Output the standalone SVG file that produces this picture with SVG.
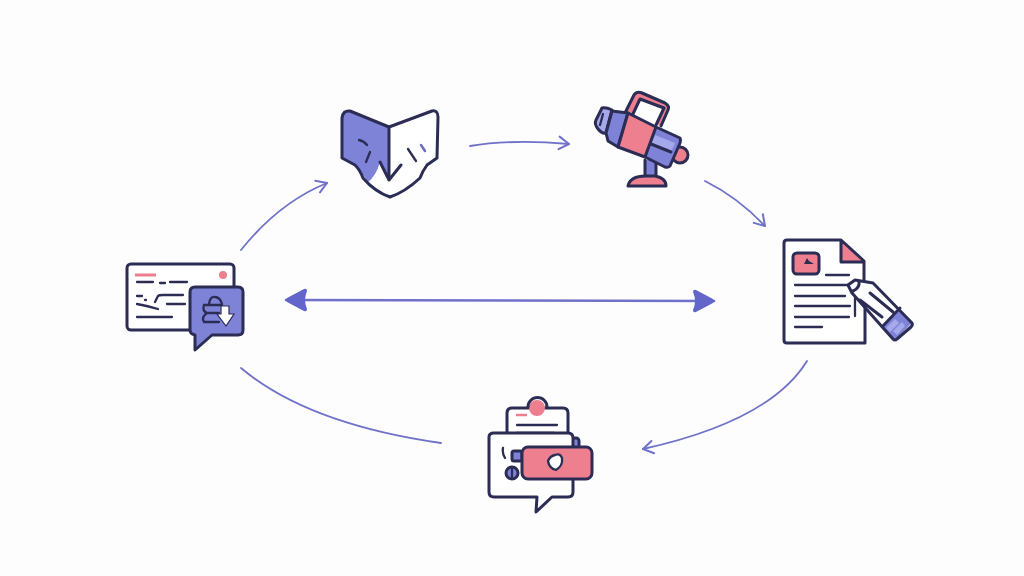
<svg xmlns="http://www.w3.org/2000/svg" width="1024" height="576" viewBox="0 0 1024 576">
<style>
.o{stroke:#2b2d55;stroke-width:3;stroke-linejoin:round;stroke-linecap:round;fill:none}
.w{fill:#fff}.b{fill:#7f83d8}.lb{fill:#a5a8ea}.p{fill:#ee7f8f}
.t{stroke:#2b2d55;stroke-width:2.300;stroke-linecap:round;fill:none}
.c{stroke:#7071c8;stroke-width:1.800;fill:none;stroke-linecap:round}
</style>
<defs>
<marker id="open" markerUnits="userSpaceOnUse" markerWidth="18" markerHeight="18" refX="13" refY="8" orient="auto">
<path d="M3 1.500L13 8L3 14" fill="none" stroke="#7071c8" stroke-width="2" stroke-linecap="round" stroke-linejoin="round"/>
</marker>
<marker id="solidEnd" markerUnits="userSpaceOnUse" markerWidth="30" markerHeight="30" refX="24" refY="15" orient="auto-start-reverse">
<path d="M3 6Q3 3 6 4L23 13Q25 15 23 17L6 26Q3 27 3 24Q7 15 3 6Z" fill="#6265c9"/>
</marker>
</defs>
<rect width="1024" height="576" fill="#fdfdfe"/>
<g id="connectors">
<path class="c" marker-end="url(#open)" d="M241 250C265 220 295 196 327 183"/>
<path class="c" marker-end="url(#open)" d="M470 146C500 141 535 141 569 144"/>
<path class="c" marker-end="url(#open)" d="M705 181C727 192 748 208 765 226"/>
<path class="c" marker-end="url(#open)" d="M807 361C780 405 720 432 643 449"/>
<path class="c" d="M441 443C350 430 285 405 241 368"/>
<path class="c" style="stroke-width:2.600" marker-start="url(#solidEnd)" marker-end="url(#solidEnd)" d="M286 300L714 301"/>
</g>
<g id="node-book">
<path class="w" d="M389 127L432 111Q438 110 438 117L437 158L427 165Q422 172 420 178Q405 192 390 197Q375 192 363 178Q360 170 355 165L342 158L342 118Q343 110 350 111Z"/>
<path class="b" d="M389 127L350 111Q343 110 342 118L342 158L355 165Q360 170 368 182Q376 176 380 162L389 180Z"/>
<path class="o" d="M389 127L432 111Q438 110 438 117L437 158L427 165Q422 172 420 178Q405 192 390 197Q375 192 363 178Q360 170 355 165L342 158L342 118Q343 110 350 111Z"/>
<path class="o" d="M389 127L389 180L380 162M389 180L401 165"/>
<path class="t" d="M359 140Q364 141 367 145M370 152L366 162M408 149L416 161"/>
<path d="M421 145L425 151" stroke="#6a6cc0" stroke-width="2.500" stroke-linecap="round"/>
</g>
<g id="node-mic">
<path class="p" d="M625 113L634 95Q637 91 642 93L665 103Q670 106 668 110L661 126L655 124L664 108L640 99L632 116Z"/>
<path class="o" d="M625 113L634 95Q637 91 642 93L665 103Q670 106 668 110L661 126M632 116L640 99L664 108L656 125"/>
<path class="b" d="M645 160H656V178H645Z"/>
<path class="o" d="M645 160V177M656 160V177"/>
<path class="p" d="M628 186Q630 176 646 176H655Q666 178 666 186Z"/>
<path class="o" d="M628 186Q630 176 646 176H655Q666 178 666 186Z"/>
<circle class="p" cx="680" cy="155" r="8"/><circle class="o" cx="680" cy="155" r="8"/>
<path class="lb" d="M602 108Q606 107 612 110L606 133Q602 134 598 129Q594 124 596 120Z"/>
<path class="o" d="M602 108Q606 107 612 110L606 133Q602 134 598 129Q594 124 596 120Z"/>
<path class="t" d="M603 114L600 125"/>
<path class="b" d="M612 111L628 113L618 147L608 141L606 133Z"/>
<path class="o" d="M612 111L628 113L618 147L608 141L606 133Z"/>
<path class="p" d="M628 113L656 127L645 157L618 147Z"/>
<path class="b" d="M656 127L680 138Q681 140 680 143L670 166Q668 168 665 167L645 157Z"/>
<path class="lb" d="M655 135L675 143L671 152L651 144Z"/>
<path class="o" d="M628 113L656 127L680 138Q681 140 680 143L670 166Q668 168 665 167L645 157L618 147ZM656 127L645 157M651 144L671 152"/>
</g>
<g id="node-document">
<path class="w" d="M784 243Q784 240 787 240H841L864 261L865 343H787Q784 343 784 340Z"/>
<path class="p" d="M841 241L863 262H841Z"/>
<path class="o" d="M865 305V343H787Q784 343 784 340V243Q784 240 787 240H841L864 261V283M841 241V262H863"/>
<rect class="p" x="793" y="253" width="26" height="21" rx="4"/><rect class="o" x="793" y="253" width="26" height="21" rx="4"/>
<path fill="#2b2d55" d="M804 264L807 258L809 261L814 264Z"/>
<path class="t" d="M826 275H849M795 285H850M795 296H845M795 306H850M795 317H849M795 327H822M855 298V316"/>
<path class="w" d="M848 285L855 280L873 283L912 323L895 340L852 293Z"/>
<path class="b" d="M900 310L912 323L895 340L882 327Z"/>
<path class="lb" d="M895 319L899 323L890 332L886 328ZM902 322L905 326L897 335L893 331Z"/>
<path class="o" d="M848 285L855 280L873 283L912 323Q913 325 911 327L897 339Q895 341 893 339L852 293ZM859 281Q860 288 853 291M860 300L882 317M870 293L893 312M900 308L882 327"/>
</g>
<g id="node-chat">
<rect class="b" x="566" y="438" width="13" height="14" rx="3"/>
<rect class="o" x="566" y="438" width="13" height="14" rx="3"/>
<path class="w" d="M507 440V413Q507 408 512 408H563Q568 408 568 413V440Z"/>
<path class="o" d="M507 432V413Q507 408 512 408H563Q568 408 568 413V440"/>
<circle class="p" cx="537" cy="408" r="8"/>
<path class="o" d="M528 407A9.500 9.500 0 0 1 547 407"/>
<path d="M516 415H527" stroke="#ee7f8f" stroke-width="2.500"/>
<path class="t" d="M517 425H557M517 433H554"/>
<path class="w" d="M489 437Q489 433 494 433H568Q573 433 573 438V492Q573 497 568 497H552L536 512L537 497H494Q489 497 489 492Z"/>
<path class="o" d="M489 437Q489 433 494 433H568Q573 433 573 438V492Q573 497 568 497H552L536 512L537 497H494Q489 497 489 492Z"/>
<rect class="b" x="512" y="451" width="10" height="10" rx="2"/>
<rect class="o" x="512" y="451" width="10" height="10" rx="2"/>
<circle class="b" cx="512" cy="473" r="6"/><circle class="o" cx="512" cy="473" r="6"/>
<path class="t" d="M512 468V478M503 448Q502 453 505 458"/>
<rect class="p" x="522" y="447" width="70" height="32" rx="6"/><rect class="o" x="522" y="447" width="70" height="32" rx="6"/>
<path class="w" d="M555 455Q560 453 562 458Q563 466 556 470Q549 468 548 461Q550 456 555 455Z"/>
<path class="t" d="M555 455Q560 453 562 458Q563 466 556 470Q549 468 548 461Q550 456 555 455Z"/>
</g>
<g id="node-card">
<rect class="w" x="127" y="264" width="107" height="66" rx="4"/><rect class="o" x="127" y="264" width="107" height="66" rx="4"/>
<path d="M135 275H156" stroke="#ee7f8f" stroke-width="3"/>
<circle class="p" cx="223" cy="275" r="4"/>
<path class="t" d="M137 282H153M160 283H165M170 282H187M137 296H142M145 300H146M155 302L158 296Q159 295 163 295H183M167 304H185M137 304Q148 306 158 309M137 317H172"/>
<path class="b" d="M190 292Q190 287 195 287H238Q243 287 243 292V330Q243 335 238 335H212L195 350L195 335Q190 334 190 330Z"/>
<path class="o" d="M190 292Q190 287 195 287H238Q243 287 243 292V330Q243 335 238 335H212L195 350L195 335Q190 334 190 330Z"/>
<path class="t" d="M204 305H222M204 305Q202 311 207 313H219M207 313Q201 317 204 322H219M209 304Q210 296 215 297Q220 297 222 304"/>
<path class="w" d="M221 306H229V314H234L226 326L217 314H221Z"/>
<path class="t" d="M221 306H229V314H234L226 326L217 314H221Z" style="stroke-width:1.200"/>
</g>
</svg>
